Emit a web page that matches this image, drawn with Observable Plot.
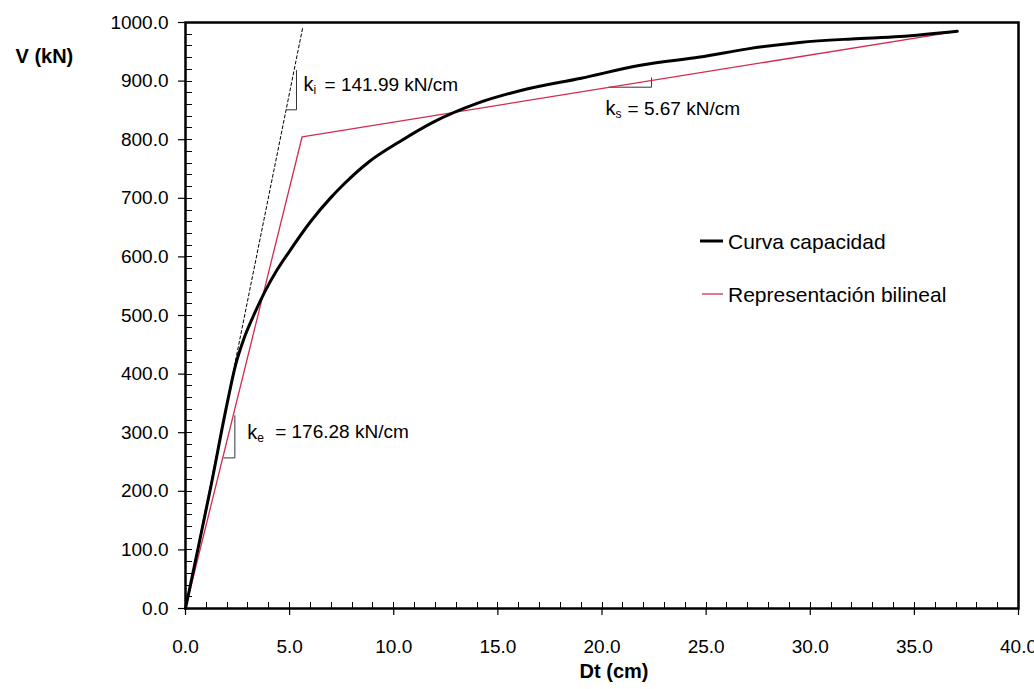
<!DOCTYPE html>
<html>
<head>
<meta charset="utf-8">
<script src="https://cdn.jsdelivr.net/npm/d3@7"></script>
<script src="https://cdn.jsdelivr.net/npm/@observablehq/plot@0.6"></script>
<style>
  html, body { margin: 0; padding: 0; background: #fff; }
  svg { font-family: "Liberation Sans", Arial, sans-serif; }
</style>
</head>
<body>
<div id="chart"></div>
<script>
// Capacity curve (Curva capacidad)
const curveDt = [0, 0.4, 1.2, 2.0, 2.4, 2.8, 3.27, 3.8, 4.4, 5.0, 6.0, 7.0, 7.6, 8.8, 10.3, 11.9, 14.0, 16.1, 19.0, 21.85, 24.7, 27.0, 29.5, 32.0, 34.3, 37.06];
const curveV  = [0, 68, 205, 350, 415, 460, 500, 540, 578, 610, 660, 702, 724, 762, 797, 830, 862, 884, 905, 927, 941, 955, 966, 972, 976, 985];

// Bilinear representation (Representación bilineal)
const bilinDt = [0, 5.6, 37.06];
const bilinV  = [0, 805, 985];

// Initial stiffness line (dashed)
const initDt = [0, 5.62];
const initV  = [0, 990];

// Slope brackets
const kiBracketDt = [4.85, 5.33, 5.33];
const kiBracketV  = [851, 851, 918];
const keBracketDt = [1.84, 2.37, 2.37];
const keBracketV  = [257, 257, 329];
const ksBracketDt = [20.33, 22.38, 22.38];
const ksBracketV  = [889.6, 889.6, 905.6];

// Slope labels
const slopeSymbols = ["k", "k", "k"];
const slopeSubs    = ["i", "e", "s"];
const slopeTexts   = ["= 141.99 kN/cm", "= 176.28 kN/cm", "= 5.67 kN/cm"];
const slopeLabelDt = [5.67, 2.96, 20.17];
const slopeLabelV  = [894, 301, 853];

// Axes
const xMajorTicks = d3.range(0, 40.001, 5);
const xMinorTicks = d3.range(0, 40.001, 1);
const yMajorTicks = d3.range(0, 1000.001, 100);
const yMinorTicks = d3.range(0, 1000.001, 20);

// Legend
const legendLabels = ["Curva capacidad", "Representación bilineal"];
const legendColors = ["#000000", "#d42a4e"];
const legendWidths = [3, 1.3];

const RED = "#d42a4e";
const W = 1034, H = 689, ML = 185, MR = 16, MT = 22, MB = 81;
const zip = (xs, ys) => xs.map((x, i) => ({x, y: ys[i]}));
const curve = zip(curveDt, curveV);
const bilin = zip(bilinDt, bilinV);
const init = zip(initDt, initV);
const labels = slopeTexts.map((t, i) => ({x: slopeLabelDt[i], y: slopeLabelV[i], k: slopeSymbols[i], sub: slopeSubs[i], rest: t}));

// inward minor ticks drawn through the plot's scales
function minorTicksMark(index, scales, values, dims) {
  const g = d3.create("svg:g").attr("stroke", "#000").attr("stroke-width", 1);
  const yBase = dims.height - dims.marginBottom;
  const xBase = dims.marginLeft;
  for (const t of xMinorTicks) {
    const px = Math.round(scales.x(t)) + 0.5;
    g.append("line").attr("x1", px).attr("x2", px).attr("y1", yBase).attr("y2", yBase - 6);
  }
  for (const t of yMinorTicks) {
    const py = Math.round(scales.y(t)) + 0.5;
    g.append("line").attr("x1", xBase).attr("x2", xBase + 7).attr("y1", py).attr("y2", py);
  }
  return g.node();
}

function legendMark(index, scales, values, dims) {
  const g = d3.create("svg:g");
  const x0 = dims.marginLeft + 515, y0 = dims.marginTop + 219;
  legendLabels.forEach((lab, i) => {
    const y = y0 + i * 53;
    g.append("line").attr("x1", x0 + (i ? 2 : 0)).attr("x2", x0 + 23).attr("y1", y).attr("y2", y)
      .attr("stroke", legendColors[i]).attr("stroke-width", legendWidths[i]);
    g.append("text").attr("x", x0 + 28).attr("y", y).attr("dy", "0.36em")
      .attr("text-anchor", "start")
      .attr("font-size", 21).attr("fill", "#000").text(lab);
  });
  return g.node();
}

const plot = Plot.plot({
  width: W,
  height: H,
  marginLeft: ML,
  marginRight: MR,
  marginTop: MT,
  marginBottom: MB,
  x: {domain: [0, 40], label: null},
  y: {domain: [0, 1000], label: null},
  style: {background: "#fff", color: "#000", fontFamily: "Liberation Sans, Arial, sans-serif"},
  marks: [
    // outward major ticks + labels
    Plot.axisX(xMajorTicks, {tickSize: 7, tickPadding: 24, tickFormat: d => d.toFixed(1), fontSize: 19, label: null, strokeWidth: 1.2}),
    Plot.axisY(yMajorTicks, {tickSize: 7, tickPadding: 10, tickFormat: d => d.toFixed(1), fontSize: 19, label: null, strokeWidth: 1.2}),
    // dashed initial stiffness
    Plot.line(init, {x: "x", y: "y", stroke: "#000", strokeWidth: 1, strokeDasharray: "3,2.5"}),
    // brackets
    Plot.line(zip(kiBracketDt, kiBracketV), {x: "x", y: "y", stroke: "#333", strokeWidth: 1}),
    Plot.line(zip(keBracketDt, keBracketV), {x: "x", y: "y", stroke: "#333", strokeWidth: 1}),
    Plot.line(zip(ksBracketDt, ksBracketV), {x: "x", y: "y", stroke: "#333", strokeWidth: 1}),
    // bilinear
    Plot.line(bilin, {x: "x", y: "y", stroke: RED, strokeWidth: 1.3}),
    // capacity curve
    Plot.line(curve, {x: "x", y: "y", stroke: "#000", strokeWidth: 3, curve: "monotone-x"}),
    Plot.frame({stroke: "#000", strokeWidth: 2.5}),
    minorTicksMark,
    // slope labels
    Plot.text(labels, {x: "x", y: "y", text: "k", textAnchor: "start", fontSize: 20, fill: "#000"}),
    Plot.text(labels, {x: "x", y: "y", text: "sub", textAnchor: "start", fontSize: 12, dx: 10, dy: 6, fill: "#000"}),
    Plot.text(labels, {x: "x", y: "y", text: "rest", textAnchor: "start", fontSize: 19, dx: 21, fill: "#000", filter: (d, i) => i === 0}),
    Plot.text(labels, {x: "x", y: "y", text: "rest", textAnchor: "start", fontSize: 19, dx: 28, fill: "#000", filter: (d, i) => i === 1}),
    Plot.text(labels, {x: "x", y: "y", text: "rest", textAnchor: "start", fontSize: 19, dx: 22, fill: "#000", filter: (d, i) => i === 2}),
    // axis titles
    Plot.text(["Dt (cm)"], {frameAnchor: "bottom", dx: 12, dy: 69, fontWeight: "bold", fontSize: 20, fill: "#000"}),
    Plot.text(["V (kN)"], {frameAnchor: "top-left", dx: -170, dy: 26, textAnchor: "start", fontWeight: "bold", fontSize: 20, fill: "#000"}),
    legendMark
  ]
});
document.getElementById("chart").appendChild(plot);
</script>
</body>
</html>
